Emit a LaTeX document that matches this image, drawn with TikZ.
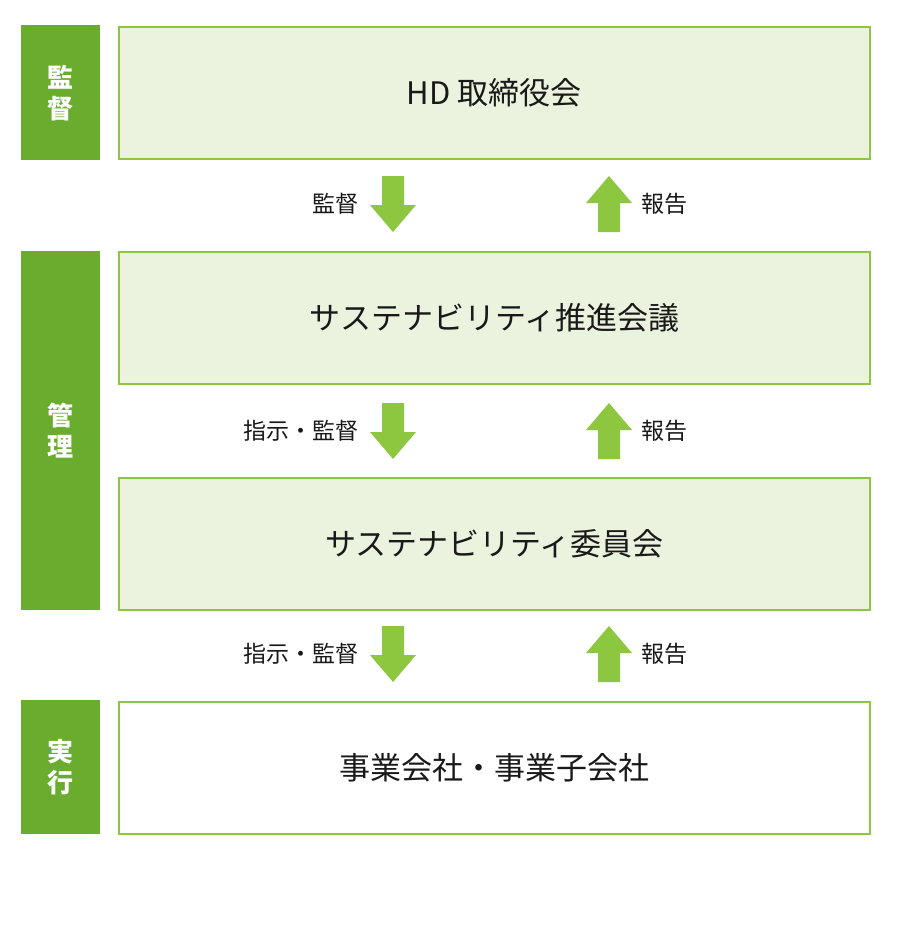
\documentclass[tikz,border=0pt]{standalone}
\usepackage{fontspec}
\setmainfont{Noto Sans CJK JP}
\definecolor{bar}{HTML}{6AAD2E}
\definecolor{edge}{HTML}{8DC63F}
\definecolor{pale}{HTML}{EBF3DE}
\definecolor{arr}{HTML}{8DC63F}
\begin{document}
\begin{tikzpicture}[x=1pt,y=-1pt,
  boxs/.style={draw=edge,line width=1.8pt,minimum width=751pt,minimum height=132pt,anchor=north west,font=\fontsize{31}{36}\selectfont,text=black!90},
  bars/.style={fill=bar,minimum width=79pt,anchor=north west,text=white,font=\bfseries\fontsize{26}{31}\selectfont,align=center,inner sep=0pt},
  lab/.style={font=\fontsize{23}{27}\selectfont,text=black!90}]
\useasboundingbox (0,0) rectangle (900,932);
\fill[white] (0,0) rectangle (900,932);
\node[bars,minimum height=135pt] (b1) at (21,25) {監\\督};
\node[bars,minimum height=359pt] (b2) at (21,251) {管\\理};
\node[bars,minimum height=134pt] (b3) at (21,700) {実\\行};
\node[boxs,fill=pale] (n1) at (118,26) {HD 取締役会};
\node[boxs,fill=pale] (n2) at (118,251) {サステナビリティ推進会議};
\node[boxs,fill=pale] (n3) at (118,477) {サステナビリティ委員会};
\node[boxs,fill=white] (n4) at (118,701) {事業会社・事業子会社};
\foreach \t/\l in {176/監督,403/指示・監督,626/指示・監督}{
  \fill[arr] (382,\t) -- (404,\t) -- (404,\t+29) -- (416,\t+29) -- (393,\t+56) -- (370,\t+29) -- (382,\t+29) -- cycle;
  \node[lab,anchor=east] at (362,\t+28) {\l};
  \fill[arr] (598,\t+56) -- (620,\t+56) -- (620,\t+27) -- (632,\t+27) -- (609,\t) -- (586,\t+27) -- (598,\t+27) -- cycle;
  \node[lab,anchor=west] at (638,\t+28) {報告};
}
\end{tikzpicture}
\end{document}
